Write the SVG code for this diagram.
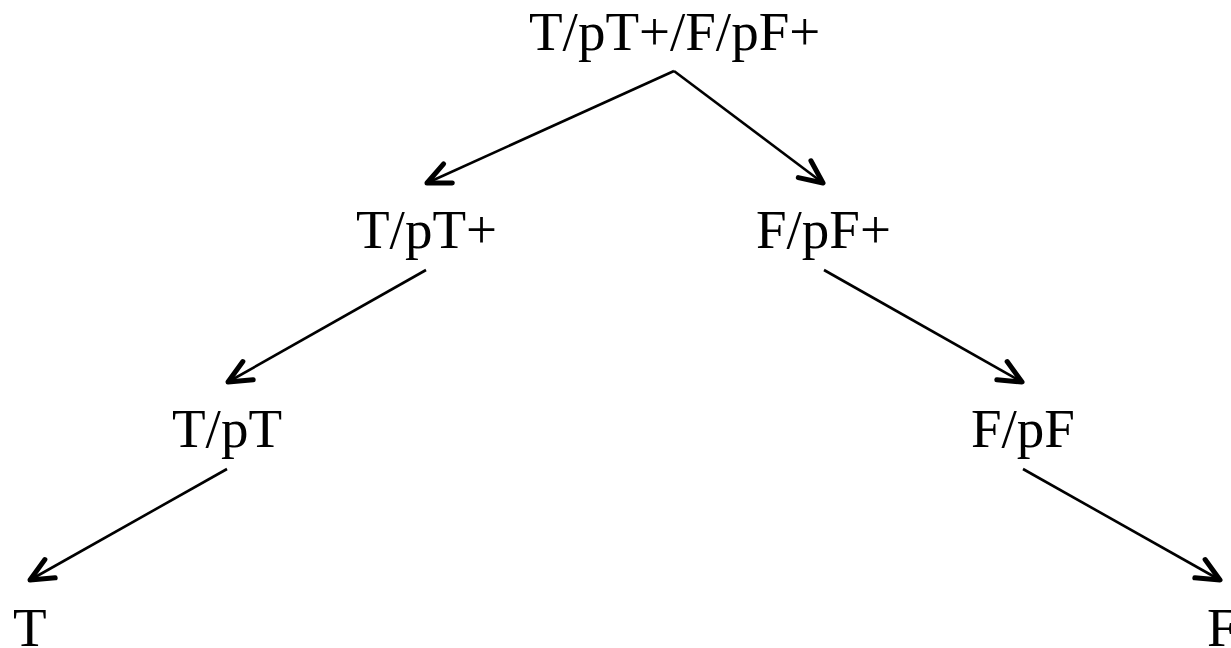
<svg xmlns="http://www.w3.org/2000/svg" width="1231" height="648" viewBox="0 0 1231 648">
  <style>
    .label { font-family: "Liberation Serif", "Times New Roman", serif; font-size: 55px; fill: #000; }
    .edge { fill: none; stroke: #000; stroke-width: 2.6; marker-end: url(#chevron); }
  </style>
  <defs>
    <marker id="chevron" markerUnits="userSpaceOnUse" viewBox="-30 -16 36 32" markerWidth="36" markerHeight="32" refX="0" refY="0" orient="auto" overflow="visible">
      <path d="M -23,-10.5 L 0,0 L -23,10.5" fill="none" stroke="#000" stroke-width="5" stroke-linecap="round" stroke-linejoin="round"/>
    </marker>
  </defs>
  <rect width="1231" height="648" fill="#fff"/>

  <g id="connectors">
    <line class="edge" x1="674" y1="71" x2="427" y2="183"/>
    <line class="edge" x1="674" y1="71" x2="823" y2="183"/>
    <line class="edge" x1="426" y1="270" x2="228" y2="382"/>
    <line class="edge" x1="824" y1="270" x2="1022" y2="382"/>
    <line class="edge" x1="227" y1="469" x2="30" y2="580"/>
    <line class="edge" x1="1023" y1="469" x2="1220" y2="580"/>
  </g>

  <g id="node-root"><text class="label" x="529" y="50">T/pT+/F/pF+</text></g>
  <g id="node-t-plus"><text class="label" x="356" y="248">T/pT+</text></g>
  <g id="node-f-plus"><text class="label" x="756" y="248">F/pF+</text></g>
  <g id="node-t-pt"><text class="label" x="172" y="447">T/pT</text></g>
  <g id="node-f-pf"><text class="label" x="971" y="447">F/pF</text></g>
  <g id="node-t"><text class="label" x="13" y="646">T</text></g>
  <g id="node-f"><text class="label" x="1207" y="646">F</text></g>
</svg>
